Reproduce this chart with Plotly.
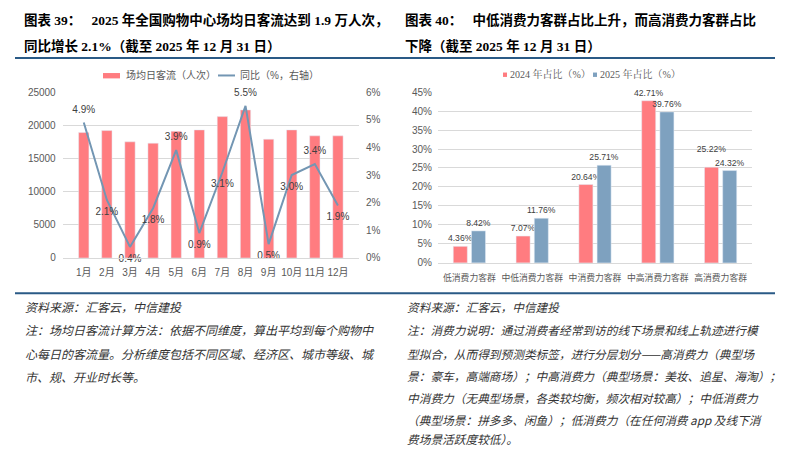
import plotly.graph_objects as go

# page body has an 8px margin: the figure is placed at (8, 8) inside the 805x476 window
OFF = 8
W, H = 805 - 2 * OFF, 476 - 2 * OFF

# ---------------- data ----------------
months = ["1月", "2月", "3月", "4月", "5月", "6月", "7月", "8月", "9月", "10月", "11月", "12月"]
daily_flow = [18900, 19200, 17500, 17300, 19100, 19300, 21300, 22300, 17900, 19300, 18400, 18400]
yoy_pct = [4.9, 2.1, 0.4, 1.8, 3.9, 0.9, 3.1, 5.5, 0.5, 3.0, 3.4, 1.9]
yoy_label_pos = ["top center", "bottom center", "bottom center", "bottom center", "top center",
                 "bottom center", "bottom center", "top center", "bottom center", "bottom center",
                 "top center", "bottom center"]

groups = ["低消费力客群", "中低消费力客群", "中消费力客群", "中高消费力客群", "高消费力客群"]
share_2024 = [4.36, 7.07, 20.64, 42.71, 25.22]
share_2025 = [8.42, 11.76, 25.71, 39.76, 24.32]
# label placement tweak: lift the 2024 label where the two labels would collide
lift_2024_label = [False, False, False, False, True]

left_yticks = [0, 5000, 10000, 15000, 20000, 25000]
right_yticks = [0, 1, 2, 3, 4, 5, 6]
share_ticks = [0, 5, 10, 15, 20, 25, 30, 35, 40, 45]

RED = "#ff7c80"
BLUE = "#7ea1bf"
LINE = "#7396b3"
GRID = "#d9d9d9"
TICK = "#595959"
SANS = "Liberation Sans, Noto Sans CJK SC"
SERIF = "Liberation Serif, Noto Serif CJK SC, Noto Sans CJK SC"


def px_x(p):
    return (p - OFF) / W


def px_y(p):
    return 1 - (p - OFF) / H


fig = go.Figure()

# ---------------- left chart ----------------
fig.add_trace(go.Bar(x=months, y=daily_flow, marker_color=RED, xaxis="x", yaxis="y",
                     showlegend=False, hoverinfo="skip"))
fig.add_trace(go.Scatter(x=months, y=yoy_pct, xaxis="x", yaxis="y2", mode="lines+markers+text",
                         line=dict(color=LINE, width=2),
                         marker=dict(size=10, color="rgba(0,0,0,0)"),
                         text=[f"{v:.1f}%" for v in yoy_pct], textposition=yoy_label_pos,
                         textfont=dict(family=SANS, size=10, color="#404040"),
                         cliponaxis=False, showlegend=False, hoverinfo="skip"))

# ---------------- right chart ----------------
labels_2024 = [f"{v:.2f}%" + ("<br><span style='font-size:4px'> </span>" if lift else "")
               for v, lift in zip(share_2024, lift_2024_label)]
labels_2025 = [f"{v:.2f}%" for v in share_2025]
for vals, labels, col in [(share_2024, labels_2024, RED), (share_2025, labels_2025, BLUE)]:
    fig.add_trace(go.Bar(x=groups, y=vals, marker_color=col, xaxis="x3", yaxis="y3",
                         text=labels, textposition="outside",
                         constraintext="none",
                         textfont=dict(family=SANS, size=8.6, color="#404040"),
                         cliponaxis=False, showlegend=False, hoverinfo="skip"))

axis_font = dict(family=SANS, size=10, color=TICK)
axis_font_small = dict(family=SANS, size=8.8, color=TICK)

fig.update_layout(
    width=W, height=H,
    margin=dict(l=0, r=0, t=0, b=0),
    paper_bgcolor="white", plot_bgcolor="white",
    barmode="group",
    bargap=0.42, bargroupgap=0.23,
    xaxis=dict(domain=[px_x(62.7), px_x(359)], type="category", tickfont=axis_font,
               tickangle=0, ticklabelstandoff=5,
               showline=True, linecolor=GRID, showgrid=False, ticks="", anchor="y"),
    yaxis=dict(domain=[px_y(259), px_y(89)], range=[0, 25000], tickvals=left_yticks,
               ticktext=[str(v) for v in left_yticks], ticklabelstandoff=6,
               tickfont=axis_font, showgrid=True, gridcolor=GRID, zeroline=False,
               ticks="", anchor="x"),
    yaxis2=dict(overlaying="y", side="right", range=[0, 6], tickvals=right_yticks,
                ticktext=[f"{v}%" for v in right_yticks], tickfont=axis_font,
                ticklabelstandoff=6,
                showgrid=False, zeroline=False, anchor="x"),
    xaxis3=dict(domain=[px_x(438), px_x(752)], type="category", tickfont=axis_font_small,
                tickangle=0, ticklabelstandoff=7,
                showline=True, linecolor=GRID, showgrid=False, ticks="", anchor="y3"),
    yaxis3=dict(domain=[px_y(264), px_y(89)], range=[0, 45], tickvals=share_ticks,
                ticktext=[f"{v}%" for v in share_ticks], tickfont=axis_font,
                ticklabelstandoff=5,
                showgrid=True, gridcolor=GRID, zeroline=False, ticks="", anchor="x3"),
)

annotations = []
shapes = []


def text_at(x, y, s, size, family, color="black", bold=False, italic=False, xanchor="left"):
    if bold:
        s = f"<b>{s}</b>"
    if italic:
        s = f"<i>{s}</i>"
    annotations.append(dict(
        x=px_x(x), y=px_y(y), xref="paper", yref="paper", xanchor=xanchor, yanchor="middle",
        text=s, showarrow=False,
        font=dict(family=family, size=size, color=color)))


TITLE_FONT = "Liberation Serif, Noto Sans CJK SC"
# titles
text_at(22, 15, "图表 39：&nbsp;&nbsp;&nbsp;2025 年全国购物中心场均日客流达到 1.9 万人次，", 13.5, TITLE_FONT, bold=True)
text_at(22, 42, "同比增长 2.1%（截至 2025 年 12 月 31 日）", 13.5, TITLE_FONT, bold=True)
text_at(403, 15, "图表 40：&nbsp;&nbsp;&nbsp;中低消费力客群占比上升，而高消费力客群占比", 13.5, TITLE_FONT, bold=True)
text_at(403, 42, "下降（截至 2025 年 12 月 31 日）", 13.5, TITLE_FONT, bold=True)

# separator lines
for (x0, x1) in [(15, 400), (400, 775)]:
    for yy in (54, 295):
        shapes.append(dict(type="line", xref="paper", yref="paper",
                           x0=px_x(x0), x1=px_x(x1), y0=px_y(yy), y1=px_y(yy),
                           line=dict(color="#2a5a86", width=2)))

# legends
shapes.append(dict(type="rect", xref="paper", yref="paper", x0=px_x(103), x1=px_x(120),
                   y0=px_y(75), y1=px_y(69.5), fillcolor=RED, line=dict(width=0)))
text_at(124, 72, "场均日客流（人次）", 10, SANS, color=TICK)
shapes.append(dict(type="line", xref="paper", yref="paper", x0=px_x(218), x1=px_x(235),
                   y0=px_y(72), y1=px_y(72), line=dict(color=LINE, width=2)))
text_at(238, 72, "同比（%，右轴）", 10, SANS, color=TICK)

shapes.append(dict(type="rect", xref="paper", yref="paper", x0=px_x(503), x1=px_x(507),
                   y0=px_y(73.5), y1=px_y(69), fillcolor=RED, line=dict(width=0)))
text_at(508, 71, "2024 年占比（%）", 10, SERIF, color=TICK)
shapes.append(dict(type="rect", xref="paper", yref="paper", x0=px_x(593), x1=px_x(597),
                   y0=px_y(73.5), y1=px_y(69), fillcolor=BLUE, line=dict(width=0)))
text_at(598, 71, "2025 年占比（%）", 10, SERIF, color=TICK)

# notes
NOTE_FONT = "Noto Sans CJK SC"
NOTE_COLOR = "#333333"
left_notes = [
    (309, "资料来源：汇客云，中信建投"),
    (332, "注：场均日客流计算方法：依据不同维度，算出平均到每个购物中"),
    (357, "心每日的客流量。分析维度包括不同区域、经济区、城市等级、城"),
    (380, "市、规、开业时长等。"),
]
for yy, s in left_notes:
    text_at(23, yy, s, 12, NOTE_FONT, color=NOTE_COLOR, italic=True)

right_notes = [
    (309, "资料来源：汇客云，中信建投"),
    (332, "注：消费力说明：通过消费者经常到访的线下场景和线上轨迹进行模"),
    (357, "型拟合，从而得到预测类标签，进行分层划分——高消费力（典型场"),
    (379, "景：豪车，高端商场）；中高消费力（典型场景：美妆、追星、海淘）；"),
    (402, "中消费力（无典型场景，各类较均衡，频次相对较高）；中低消费力"),
    (424, "（典型场景：拼多多、闲鱼）；低消费力（在任何消费 app 及线下消"),
    (444, "费场景活跃度较低）。"),
]
for yy, s in right_notes:
    text_at(405, yy, s, 11.7, NOTE_FONT, color=NOTE_COLOR, italic=True)

fig.update_layout(annotations=annotations, shapes=shapes)

fig.write_html("out.html")
